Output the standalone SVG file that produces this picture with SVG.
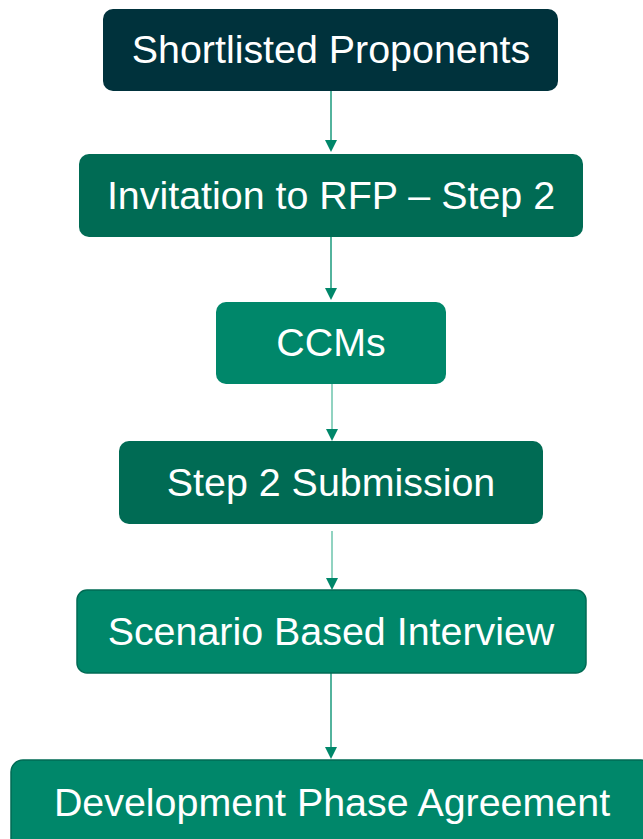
<svg xmlns="http://www.w3.org/2000/svg" width="643" height="839" viewBox="0 0 643 839">
<style>
text{font-family:"Liberation Sans",Arial,sans-serif;font-size:39.4px;fill:#ffffff;text-anchor:middle}
.c1{fill:#00323c}
.c2{fill:#006b54}
.c3{fill:#00876a}
.b{stroke:#006b54;stroke-width:1.5}
.ln{stroke:#1a9a7c;stroke-width:1.5;fill:none}
.ln2{stroke:#6cc4ad;stroke-width:1.5;fill:none}
.ah{fill:#00876a}
</style>
<g id="connectors">
<path class="ln" d="M331,91 L331,141"/><path class="ah" d="M325,140 L337,140 L331,152 Z"/>
<path class="ln" d="M331,237 L331,288"/><path class="ah" d="M325,288 L337,288 L331,300 Z"/>
<path class="ln2" d="M332,384 L332,430"/><path class="ah" d="M326,429 L338,429 L332,441 Z"/>
<path class="ln2" d="M332,531 L332,579"/><path class="ah" d="M326,578 L338,578 L332,590 Z"/>
<path class="ln" d="M331,673 L331,748"/><path class="ah" d="M325,747 L337,747 L331,759 Z"/>
</g>
<g id="n1"><rect class="c1" x="103" y="9" width="455" height="82" rx="10"/><text x="331" y="63">Shortlisted Proponents</text></g>
<g id="n2"><rect class="c2" x="79" y="154" width="504" height="83" rx="10"/><text x="331" y="209">Invitation to RFP – Step 2</text></g>
<g id="n3"><rect class="c3" x="216" y="302" width="230" height="82" rx="10"/><text x="331" y="356">CCMs</text></g>
<g id="n4"><rect class="c2" x="119" y="441" width="424" height="83" rx="10"/><text x="331" y="496">Step 2 Submission</text></g>
<g id="n5"><rect class="c3 b" x="77" y="590" width="509" height="83" rx="10"/><text x="331" y="645">Scenario Based Interview</text></g>
<g id="n6"><rect class="c3 b" x="11" y="760" width="642" height="90" rx="12"/><text x="332" y="816">Development Phase Agreement</text></g>
</svg>
